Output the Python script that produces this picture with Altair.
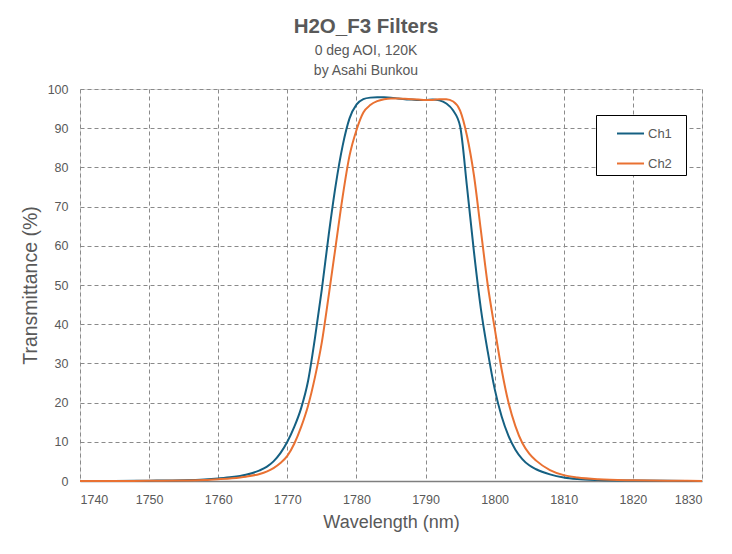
import altair as alt
import pandas as pd

wavelength = [1740, 1745, 1750, 1755, 1758, 1760, 1762, 1764, 1766, 1767, 1768, 1769,
              1770, 1771, 1772, 1773, 1774, 1775, 1776, 1777, 1778, 1779, 1780, 1781,
              1782, 1783, 1784, 1785, 1786, 1787, 1788, 1789, 1790, 1791, 1792, 1793,
              1794, 1795, 1796, 1797, 1798, 1799, 1800, 1801, 1802, 1803, 1804, 1805,
              1806, 1808, 1810, 1812, 1815, 1820, 1825, 1830]

ch1 = [0.0, 0.02, 0.08, 0.2, 0.4, 0.65, 1.0, 1.6, 2.7, 3.6, 5.0, 7.1,
       10.0, 13.8, 18.6, 25.5, 36.5, 49.0, 63.0, 75.5, 85.5, 92.5, 96.0, 97.4,
       97.8, 97.9, 97.9, 97.8, 97.6, 97.4, 97.3, 97.2, 97.2, 97.3, 97.1, 96.3,
       94.5, 90.5, 75.0, 58.5, 44.0, 33.0, 23.5, 16.5, 11.5, 8.0, 5.6, 4.0,
       3.0, 1.7, 0.9, 0.5, 0.25, 0.1, 0.04, 0.02]

ch2 = [0.0, 0.01, 0.04, 0.12, 0.25, 0.45, 0.7, 1.1, 1.8, 2.4, 3.3, 4.6,
       6.4, 9.5, 13.8, 19.2, 26.5, 35.5, 47.5, 60.0, 72.5, 83.0, 89.5, 94.0,
       95.9, 96.9, 97.4, 97.6, 97.6, 97.5, 97.4, 97.3, 97.2, 97.2, 97.4, 97.4,
       96.8, 94.5, 88.0, 78.0, 64.0, 50.0, 39.0, 28.5, 20.0, 14.0, 9.7, 7.0,
       5.2, 2.8, 1.5, 0.9, 0.45, 0.18, 0.07, 0.03]

series_names = ["Ch1", "Ch2"]
series_colors = ["#156082", "#E97132"]
x_ticks = list(range(1740, 1831, 10))
y_ticks = list(range(0, 101, 10))

df = pd.concat([
    pd.DataFrame({"wl": wavelength, "T": ch1, "ch": "Ch1"}),
    pd.DataFrame({"wl": wavelength, "T": ch2, "ch": "Ch2"}),
])

FONT = "Liberation Sans"
GRAY = "#595959"

chart = alt.Chart(df).mark_line(strokeWidth=2, interpolate="monotone").encode(
    x=alt.X("wl:Q", scale=alt.Scale(domain=[1740, 1830], nice=False),
            axis=alt.Axis(values=x_ticks, title="Wavelength (nm)", format="d",
                          labelFontSize=12.5, labelColor=GRAY, labelFont=FONT,
                          titleFontSize=18, titleColor=GRAY, titleFont=FONT,
                          titleFontWeight="normal", grid=True, gridDash=[4, 3],
                          gridColor="#8a8a8a", gridWidth=1, ticks=False,
                          domainColor="#7f7f7f", domainWidth=1.5,
                          labelPadding=12, titlePadding=8)),
    y=alt.Y("T:Q", scale=alt.Scale(domain=[0, 100], nice=False),
            axis=alt.Axis(values=y_ticks, title="Transmittance (%)",
                          labelFontSize=12.5, labelColor=GRAY, labelFont=FONT,
                          titleFontSize=19.5, titleColor=GRAY, titleFont=FONT,
                          titleFontWeight="normal", grid=True, gridDash=[4, 3],
                          gridColor="#8a8a8a", gridWidth=1, ticks=False,
                          domain=False, labelPadding=12, titlePadding=7)),
    color=alt.Color("ch:N", scale=alt.Scale(domain=series_names, range=series_colors),
                    legend=alt.Legend(title=None, orient="none", legendX=516, legendY=26,
                                      symbolType="stroke", symbolSize=729,
                                      symbolStrokeWidth=2, symbolOffset=16,
                                      labelFontSize=13, labelColor=GRAY, labelFont=FONT,
                                      labelOffset=3, rowPadding=8, padding=4,
                                      strokeColor="black", fillColor="white",
                                      labelExpr="datum.label + '\u2800'")),
).properties(
    width=622,
    height=392,
    title=alt.Title("H2O_F3 Filters",
                    subtitle=["0 deg AOI, 120K", "by Asahi Bunkou"],
                    font=FONT, fontSize=20.5, fontWeight="bold", color=GRAY,
                    subtitleFont=FONT, subtitleFontSize=14, subtitleColor=GRAY,
                    subtitleLineHeight=20, subtitlePadding=7,
                    anchor="middle", offset=5, dx=-25),
    autosize=alt.AutoSizeParams(type="none"),
    padding={"left": 72, "top": 81, "right": 22, "bottom": 57},
).configure_view(
    stroke="black", strokeWidth=1.5
).configure(background="white")

chart.save("out.html", embed_options={"renderer": "svg", "actions": False})
